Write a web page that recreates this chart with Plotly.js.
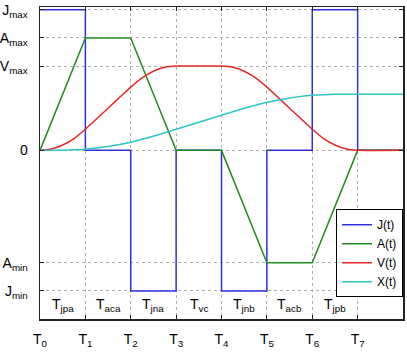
<!DOCTYPE html>
<html>
<head>
<meta charset="utf-8">
<script src="https://cdn.plot.ly/plotly-3.0.1.min.js"></script>
<style>html,body{margin:0;padding:0;background:#fff;}#chart{width:407px;height:352px;}</style>
</head>
<body>
<div id="chart"></div>
<script>
// Jerk and acceleration: values at T0..T7 and the end of the window
const tKnots = [0, 1, 2, 3, 4, 5, 6, 7, 8];
const jerk   = [1, 0, -1, 0, -1, 0, 1, 0, 0];
const accel  = [0, 0.8, 0.8, 0, 0, -0.8, -0.8, 0, 0];

// Velocity and position, read at quarter steps
const tFine = [0, 0.25, 0.5, 0.75, 1, 1.25, 1.5, 1.75, 2, 2.25, 2.5, 2.75, 3, 3.25, 3.5, 3.75, 4,
               4.25, 4.5, 4.75, 5, 5.25, 5.5, 5.75, 6, 6.25, 6.5, 6.75, 7, 8];
const vel = [0, 0.009, 0.038, 0.084, 0.15, 0.225, 0.30, 0.375, 0.45, 0.516, 0.563, 0.591, 0.60,
             0.60, 0.60, 0.60, 0.60, 0.591, 0.563, 0.516, 0.45, 0.375, 0.30, 0.225, 0.15,
             0.084, 0.038, 0.009, 0, 0];
const pos = [0, 0.0001, 0.001, 0.0035, 0.0083, 0.0161, 0.0271, 0.0411, 0.0583, 0.0785, 0.101,
             0.125, 0.15, 0.175, 0.20, 0.225, 0.25, 0.275, 0.299, 0.321, 0.342, 0.359, 0.373,
             0.384, 0.392, 0.3965, 0.399, 0.3999, 0.40, 0.40];

// Tick labels
const xTickVals = [0, 1, 2, 3, 4, 5, 6, 7];
const xTickText = ["T<sub>0</sub>", "T<sub>1</sub>", "T<sub>2</sub>", "T<sub>3</sub>",
                   "T<sub>4</sub>", "T<sub>5</sub>", "T<sub>6</sub>", "T<sub>7</sub>"];
const yTickVals = [1, 0.8, 0.6, 0, -0.8, -1];
const yTickText = ["J<sub>max</sub>", "A<sub>max</sub>", "V<sub>max</sub>", "0",
                   "A<sub>min</sub>", "J<sub>min</sub>"];

// Interval labels
const intervalX = [0.5, 1.5, 2.5, 3.5, 4.5, 5.5, 6.5];
const intervalText = ["T<sub>jpa</sub>", "T<sub>aca</sub>", "T<sub>jna</sub>", "T<sub>vc</sub>",
                      "T<sub>jnb</sub>", "T<sub>acb</sub>", "T<sub>jpb</sub>"];

const seriesNames = ["J(t)", "A(t)", "V(t)", "X(t)"];
const colors = ["#3030e0", "#238a23", "#e82828", "#2cc4c8"];

const font = "Liberation Sans, Arial, sans-serif";

const traces = [
  {x: tKnots, y: jerk, name: seriesNames[0], mode: "lines", line: {color: colors[0], width: 1.5, shape: "hv"}},
  {x: tKnots, y: accel, name: seriesNames[1], mode: "lines", line: {color: colors[1], width: 1.5}},
  {x: tFine, y: vel, name: seriesNames[2], mode: "lines", line: {color: colors[2], width: 1.5, shape: "spline", smoothing: 0.5}},
  {x: tFine, y: pos, name: seriesNames[3], mode: "lines", line: {color: colors[3], width: 1.5, shape: "spline", smoothing: 0.5}}
];

const annotations = intervalX.map((x, i) => ({
  x: x, y: -1.1, xref: "x", yref: "y", text: intervalText[i], showarrow: false,
  font: {family: font, size: 14, color: "#000"}, xanchor: "center", yanchor: "middle"
}));

const layout = {
  width: 407, height: 352,
  margin: {l: 40, r: 4, t: 7, b: 33, pad: 0},
  paper_bgcolor: "#fff", plot_bgcolor: "#fff",
  font: {family: font, size: 13, color: "#000"},
  showlegend: true,
  legend: {
    x: 1, y: 0.07, xanchor: "right", yanchor: "bottom",
    bgcolor: "#fff", bordercolor: "#000", borderwidth: 1,
    font: {family: font, size: 12, color: "#000"}, tracegroupgap: 0
  },
  xaxis: {
    range: [0, 8], tickmode: "array", tickvals: xTickVals, ticktext: xTickText,
    showgrid: true, gridcolor: "#b0b0b0", griddash: "dot", gridwidth: 1,
    zeroline: false, showline: true, linecolor: "#222", linewidth: 1.5, mirror: "allticks",
    ticks: "inside", ticklen: 4, tickcolor: "#222",
    tickfont: {family: font, size: 14, color: "#000"}, ticklabelstandoff: 7,
    fixedrange: true
  },
  yaxis: {
    range: [-1.2, 1.02], tickmode: "array", tickvals: yTickVals, ticktext: yTickText,
    showgrid: true, gridcolor: "#b0b0b0", griddash: "dot", gridwidth: 1,
    zeroline: false, showline: true, linecolor: "#222", linewidth: 1.5, mirror: "allticks",
    ticks: "inside", ticklen: 4, tickcolor: "#222",
    tickfont: {family: font, size: 14, color: "#000"}, ticklabelstandoff: 8,
    fixedrange: true
  },
  annotations: annotations
};

Plotly.newPlot("chart", traces, layout, {displayModeBar: false, staticPlot: true});
</script>
</body>
</html>
